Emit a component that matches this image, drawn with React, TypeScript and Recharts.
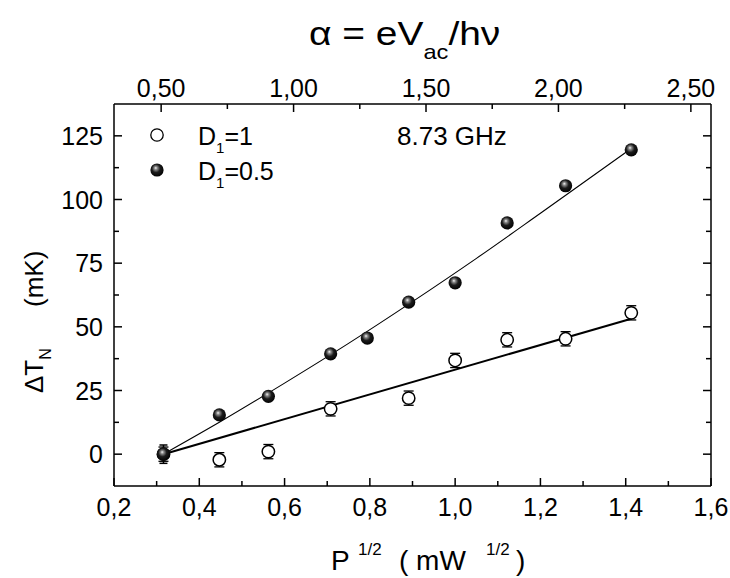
import React from 'react';
import { ComposedChart, Scatter, Line, XAxis, YAxis, ErrorBar, Legend, Label } from 'recharts';

// ---- data ----
const pSqrt = [0.316, 0.447, 0.562, 0.708, 0.794, 0.891, 1.0, 1.122, 1.259, 1.413];
const dTnD1 = [0, -2.2, 1.0, 17.8, null, 22.0, 36.8, 44.9, 45.3, 55.5]; // D1 = 1 (open)
const dTnD05 = [0, 15.4, 22.7, 39.4, 45.6, 59.7, 67.3, 90.8, 105.4, 119.5]; // D1 = 0.5 (filled)
const errD1 = [2.8, 2.8, 2.8, 2.8, null, 2.8, 2.8, 2.8, 2.8, 2.8];
const errD05 = [3.6, null, null, null, null, null, null, null, null, null];

const fitD1X = [0.316, 1.413];
const fitD1Y = [0, 53.2];
const fitD05X = [0.316, 0.45, 0.6, 0.75, 0.9, 1.05, 1.2, 1.413];
const fitD05Y = [0, 12.8, 27.9, 43.5, 59.9, 76.9, 94.6, 120];

const xTicks = [0.2, 0.3, 0.4, 0.5, 0.6, 0.7, 0.8, 0.9, 1.0, 1.1, 1.2, 1.3, 1.4, 1.5, 1.6];
const xMajor = [0.2, 0.4, 0.6, 0.8, 1.0, 1.2, 1.4, 1.6];
const alphaTicks = [0.5, 0.75, 1.0, 1.25, 1.5, 1.75, 2.0, 2.25, 2.5];
const alphaMajor = [0.5, 1.0, 1.5, 2.0, 2.5];
const yTicks = [0, 12.5, 25, 37.5, 50, 62.5, 75, 87.5, 100, 112.5, 125];
const yMajor = [0, 25, 50, 75, 100, 125];
const alphaPerP = 1.61; // alpha = eVac/hv per unit of P^1/2
const xDomain = [0.2, 1.6];
const yDomain = [-12.5, 137.5];

const seriesNames = [
  { main: 'D', sub: '1', rest: '=1' },
  { main: 'D', sub: '1', rest: '=0.5' },
];
const freqLabel = '8.73 GHz';

// ---- tables for the library ----
const openData = pSqrt
  .map((x, i) => ({ x, y: dTnD1[i], err: errD1[i] }))
  .filter((d) => d.y !== null);
const filledData = pSqrt.map((x, i) => ({ x, y: dTnD05[i], err: errD05[i] }));
const alphaData = pSqrt.map((p, i) => ({ a: p * alphaPerP, y: dTnD05[i] }));
const fitOpen = fitD1X.map((x, i) => ({ x, y: fitD1Y[i] }));
const fitFilled = fitD05X.map((x, i) => ({ x, y: fitD05Y[i] }));

const FONT = "'Liberation Sans', Arial, Helvetica, sans-serif";
const TICK_FS = 25;

const isIn = (arr: number[], v: number) => arr.some((m) => Math.abs(m - v) < 1e-6);
const comma = (v: number, digits: number) => v.toFixed(digits).replace('.', ',');

function makeTick(orient: string, majors: number[], fmt: ((v: number) => string) | null, margin: number) {
  return (props: any) => {
    const { x, y, payload } = props;
    const v = payload.value;
    const major = isIn(majors, v);
    const len = major ? 8 : 5;
    const label = major && fmt ? fmt(v) : null;
    if (orient === 'bottom') {
      const ay = y - margin;
      return (
        <g>
          <line x1={x} x2={x} y1={ay} y2={ay - len} stroke="#000" strokeWidth={1.5} />
          {label && (
            <text x={x} y={y} dy="0.72em" textAnchor="middle" fontFamily={FONT} fontSize={TICK_FS} fill="#000">
              {label}
            </text>
          )}
        </g>
      );
    }
    if (orient === 'top') {
      const ay = y + margin;
      return (
        <g>
          <line x1={x} x2={x} y1={ay} y2={ay + len} stroke="#000" strokeWidth={1.5} />
          {label && (
            <text x={x} y={y} textAnchor="middle" fontFamily={FONT} fontSize={TICK_FS} fill="#000">
              {label}
            </text>
          )}
        </g>
      );
    }
    if (orient === 'left') {
      const ax = x + margin;
      return (
        <g>
          <line x1={ax} x2={ax + len} y1={y} y2={y} stroke="#000" strokeWidth={1.5} />
          {label && (
            <text x={x} y={y} dy="0.36em" textAnchor="end" fontFamily={FONT} fontSize={TICK_FS} fill="#000">
              {label}
            </text>
          )}
        </g>
      );
    }
    const ax = x - margin;
    return (
      <g>
        <line x1={ax} x2={ax - len} y1={y} y2={y} stroke="#000" strokeWidth={1.5} />
      </g>
    );
  };
}

const OpenMarker = (props: any) => {
  const { cx, cy } = props;
  if (cx == null || cy == null) return null;
  return <circle cx={cx} cy={cy} r={6.2} fill="#fff" stroke="#000" strokeWidth={1.5} />;
};

const Sphere = ({ cx, cy, r, id }: { cx: number; cy: number; r: number; id: string }) => (
  <g>
    <defs>
      <radialGradient id={id} cx="0.45" cy="0.42" r="0.6" fx="0.4" fy="0.34">
        <stop offset="0%" stopColor="#f5f5f5" />
        <stop offset="20%" stopColor="#8a8a8a" />
        <stop offset="52%" stopColor="#1c1c1c" />
        <stop offset="100%" stopColor="#000" />
      </radialGradient>
    </defs>
    <circle cx={cx} cy={cy} r={r} fill={`url(#${id})`} />
  </g>
);

const FilledMarker = (props: any) => {
  const { cx, cy } = props;
  if (cx == null || cy == null) return null;
  return <Sphere cx={cx} cy={cy} r={6.6} id={`sph-${Math.round(cx)}-${Math.round(cy)}`} />;
};

const NoMarker = () => <g />;

const renderLegend = () => (
  <svg width={380} height={80} style={{ overflow: 'visible' }}>
    <circle cx={19} cy={20} r={6.2} fill="#fff" stroke="#000" strokeWidth={1.3} />
    <Sphere cx={19} cy={55} r={6.6} id="sph-legend" />
    {seriesNames.map((s, i) => (
      <text key={i} x={60} y={30 + i * 35} fontFamily={FONT} fontSize={25} fill="#000">
        {s.main}
        <tspan fontSize={15} dy={8}>
          {s.sub}
        </tspan>
        <tspan dy={-8}>{s.rest}</tspan>
      </text>
    ))}
    <text x={259} y={30} fontFamily={FONT} fontSize={26} fill="#000">
      {freqLabel}
    </text>
  </svg>
);

const renderTitle = () => (
  <text
    x={0}
    y={0}
    transform="translate(309,45) scale(1.18,1)"
    fontFamily={FONT}
    fontSize={33}
    fill="#000"
  >
    {'\u03B1 = eV'}
    <tspan fontSize={20} dy={14}>
      ac
    </tspan>
    <tspan dy={-14}>{'/h\u03BD'}</tspan>
  </text>
);

const renderXLabel = () => (
  <text y={570} fontFamily={FONT} fontSize={28} fill="#000">
    <tspan x={331}>P</tspan>
    <tspan x={358} dy={-15} fontSize={17}>
      1/2
    </tspan>
    <tspan x={399} dy={15}>
      ( mW
    </tspan>
    <tspan x={486} dy={-15} fontSize={17}>
      1/2
    </tspan>
    <tspan x={516} dy={15}>
      )
    </tspan>
  </text>
);

const renderYLabel = () => (
  <text transform="translate(43,393) rotate(-90)" x={0} y={0} fontFamily={FONT} fontSize={26} fill="#000">
    {'\u0394T'}
    <tspan fontSize={16} dy={8}>
      N
    </tspan>
    <tspan x={86} dy={-8}>
      (mK)
    </tspan>
  </text>
);

export default function App() {
  return (
    <div style={{ position: 'absolute', left: 0, top: 0, width: 730, height: 578, background: '#fff' }}>
      <ComposedChart width={730} height={578} margin={{ top: 0, right: 0, bottom: 0, left: 0 }}>
        <XAxis
          xAxisId="bottom"
          dataKey="x"
          type="number"
          orientation="bottom"
          domain={xDomain}
          allowDataOverflow
          ticks={xTicks}
          interval={0}
          height={92}
          tickSize={0}
          tickMargin={12}
          tickLine={false}
          axisLine={{ stroke: '#000', strokeWidth: 1.5 }}
          tick={makeTick('bottom', xMajor, (v) => comma(v, 1), 12)}
        >
          <Label content={renderXLabel} />
        </XAxis>
        <XAxis
          xAxisId="top"
          dataKey="a"
          type="number"
          orientation="top"
          domain={[xDomain[0] * alphaPerP, xDomain[1] * alphaPerP]}
          allowDataOverflow
          ticks={alphaTicks}
          interval={0}
          height={104}
          tickSize={0}
          tickMargin={7}
          tickLine={false}
          axisLine={{ stroke: '#000', strokeWidth: 1.5 }}
          tick={makeTick('top', alphaMajor, (v) => comma(v, 2), 7)}
        >
          <Label content={renderTitle} />
        </XAxis>
        <YAxis
          yAxisId="left"
          type="number"
          orientation="left"
          domain={yDomain}
          allowDataOverflow
          ticks={yTicks}
          interval={0}
          width={114}
          tickSize={0}
          tickMargin={11}
          tickLine={false}
          axisLine={{ stroke: '#000', strokeWidth: 1.5 }}
          tick={makeTick('left', yMajor, (v) => String(v), 11)}
        >
          <Label content={renderYLabel} />
        </YAxis>
        <YAxis
          yAxisId="right"
          type="number"
          orientation="right"
          domain={yDomain}
          allowDataOverflow
          ticks={yTicks}
          interval={0}
          width={19}
          tickSize={0}
          tickMargin={4}
          tickLine={false}
          axisLine={{ stroke: '#000', strokeWidth: 1.5 }}
          tick={makeTick('right', yMajor, null, 4)}
        />
        <Scatter
          data={alphaData}
          xAxisId="top"
          yAxisId="right"
          dataKey="y"
          shape={NoMarker}
          legendType="none"
          isAnimationActive={false}
        />
        <Line
          data={fitOpen}
          xAxisId="bottom"
          yAxisId="left"
          dataKey="y"
          type="linear"
          stroke="#000"
          strokeWidth={2}
          dot={false}
          activeDot={false}
          isAnimationActive={false}
        />
        <Line
          data={fitFilled}
          xAxisId="bottom"
          yAxisId="left"
          dataKey="y"
          type="monotone"
          stroke="#000"
          strokeWidth={1.1}
          dot={false}
          activeDot={false}
          isAnimationActive={false}
        />
        <Scatter
          data={openData}
          xAxisId="bottom"
          yAxisId="left"
          dataKey="y"
          shape={OpenMarker}
          isAnimationActive={false}
        >
          <ErrorBar dataKey="err" direction="y" width={5} stroke="#000" strokeWidth={1.3} isAnimationActive={false} />
        </Scatter>
        <Scatter
          data={filledData}
          xAxisId="bottom"
          yAxisId="left"
          dataKey="y"
          shape={FilledMarker}
          isAnimationActive={false}
        >
          <ErrorBar dataKey="err" direction="y" width={4} stroke="#000" strokeWidth={1.5} isAnimationActive={false} />
        </Scatter>
        <Legend
          layout="vertical"
          align="center"
          verticalAlign="middle"
          content={renderLegend}
          wrapperStyle={{ left: 138, top: 115, width: 380, height: 80 }}
        />
      </ComposedChart>
    </div>
  );
}
